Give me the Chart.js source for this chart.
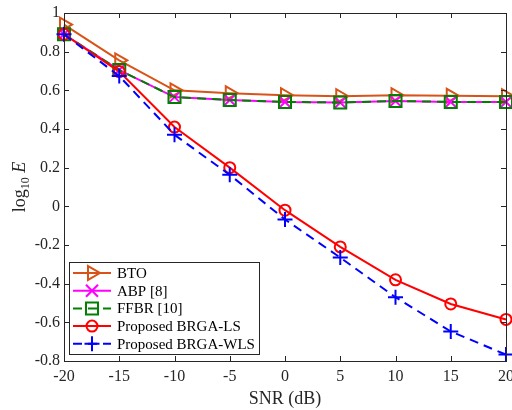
<!DOCTYPE html>
<html>
<head>
<meta charset="utf-8">
<script src="https://cdn.jsdelivr.net/npm/chart.js@4.4.0/dist/chart.umd.min.js"></script>
<style>
  html, body { margin: 0; padding: 0; background: #fff; }
  #wrap { width: 512px; height: 410px; }
</style>
</head>
<body>
<div id="wrap"><canvas id="myChart"></canvas></div>
<script>
// SNR sweep and log10 of the error for each method
const snr = [-20, -15, -10, -5, 0, 5, 10, 15, 20];
const bto = [0.94, 0.755, 0.60, 0.585, 0.575, 0.57, 0.575, 0.572, 0.57];
const abp = [0.89, 0.705, 0.565, 0.55, 0.54, 0.537, 0.545, 0.54, 0.54];
const ffbr = [0.89, 0.705, 0.565, 0.55, 0.54, 0.537, 0.545, 0.54, 0.54];
const brgaLs = [0.89, 0.697, 0.41, 0.20, -0.02, -0.21, -0.38, -0.505, -0.585];
const brgaWls = [0.89, 0.674, 0.37, 0.163, -0.068, -0.265, -0.47, -0.647, -0.767];

const xTicks = [-20, -15, -10, -5, 0, 5, 10, 15, 20];
const yTicks = [-0.8, -0.6, -0.4, -0.2, 0, 0.2, 0.4, 0.6, 0.8, 1];
const yTickLabels = ['-0.8', '-0.6', '-0.4', '-0.2', '0', '0.2', '0.4', '0.6', '0.8', '1'];

const labelNames = ['BTO', 'ABP [8]', 'FFBR [10]', 'Proposed BRGA-LS', 'Proposed BRGA-WLS'];

const axisColor = '#262626';
const serif = '"Liberation Serif", "Times New Roman", serif';

function serie(label, values, color, style, radius, dash, order, rotation) {
  return {
    label: label,
    data: snr.map((x, i) => ({ x: x, y: values[i] })),
    borderColor: color,
    backgroundColor: 'transparent',
    borderWidth: 2,
    borderDash: dash,
    pointStyle: style,
    pointRotation: rotation || 0,
    pointRadius: radius,
    pointBorderColor: color,
    pointBackgroundColor: 'transparent',
    pointBorderWidth: 2,
    tension: 0,
    clip: 10,
    order: order
  };
}

// inward ticks on all four sides plus the box
const frame = {
  id: 'frame',
  afterDatasetsDraw(chart) {
    const { ctx, chartArea: a, scales } = chart;
    ctx.save();
    ctx.strokeStyle = axisColor;
    ctx.lineWidth = 1;
    ctx.beginPath();
    xTicks.forEach(v => {
      const px = Math.round(scales.x.getPixelForValue(v)) + 0.5;
      ctx.moveTo(px, a.bottom); ctx.lineTo(px, a.bottom - 5);
      ctx.moveTo(px, a.top); ctx.lineTo(px, a.top + 5);
    });
    yTicks.forEach(v => {
      const py = Math.round(scales.y.getPixelForValue(v)) + 0.5;
      ctx.moveTo(a.left, py); ctx.lineTo(a.left + 5, py);
      ctx.moveTo(a.right, py); ctx.lineTo(a.right - 5, py);
    });
    ctx.stroke();
    ctx.strokeRect(Math.round(a.left) + 0.5, Math.round(a.top) + 0.5,
      Math.round(a.right - a.left), Math.round(a.bottom - a.top));
    ctx.restore();
  },
  afterDraw(chart) {
    const { ctx, chartArea: a } = chart;
    // y axis title: log10 E
    ctx.save();
    ctx.fillStyle = axisColor;
    ctx.translate(25, (a.top + a.bottom) / 2);
    ctx.rotate(-Math.PI / 2);
    ctx.textBaseline = 'alphabetic';
    const f1 = '18px ' + serif, f2 = '12px ' + serif, f3 = 'italic 18px ' + serif;
    ctx.font = f1; const w1 = ctx.measureText('log').width;
    ctx.font = f2; const w2 = ctx.measureText('10').width;
    ctx.font = f3; const w3 = ctx.measureText(' E').width;
    let x0 = -(w1 + w2 + w3) / 2;
    ctx.font = f1; ctx.fillText('log', x0, 0);
    ctx.font = f2; ctx.fillText('10', x0 + w1, 4);
    ctx.font = f3; ctx.fillText(' E', x0 + w1 + w2, 0);
    ctx.restore();
  }
};

// boxed legend in the lower left corner
const boxLegend = {
  id: 'boxLegend',
  afterDraw(chart) {
    const ctx = chart.ctx;
    const left = 69, top = 262, w = 190, h = 92, rowH = 17.7;
    ctx.save();
    ctx.fillStyle = '#fff';
    ctx.fillRect(left, top, w, h);
    ctx.strokeStyle = axisColor;
    ctx.lineWidth = 1;
    ctx.strokeRect(left + 0.5, top + 0.5, w, h);
    chart.data.datasets.forEach((ds, i) => {
      const y = top + 11 + i * rowH;
      ctx.strokeStyle = ds.borderColor;
      ctx.lineWidth = ds.borderWidth;
      ctx.setLineDash(ds.borderDash || []);
      ctx.beginPath();
      ctx.moveTo(73, y); ctx.lineTo(111, y);
      ctx.stroke();
      ctx.setLineDash([]);
      ctx.fillStyle = 'rgba(0,0,0,0)';
      Chart.helpers.drawPoint(ctx, {
        pointStyle: ds.pointStyle,
        rotation: ds.pointRotation,
        radius: ds.pointRadius,
        borderWidth: ds.pointBorderWidth
      }, 92, y);
      ctx.fillStyle = '#000';
      ctx.font = '15px ' + serif;
      ctx.textBaseline = 'middle';
      ctx.fillText(ds.label, 117, y + 1);
    });
    ctx.restore();
  }
};

const ctx = document.getElementById('myChart').getContext('2d');
new Chart(ctx, {
  type: 'line',
  data: {
    datasets: [
      serie(labelNames[0], bto, '#D95319', 'triangle', 8, [], 5, 90),
      serie(labelNames[1], abp, '#FF00FF', 'crossRot', 8.5, [], 4),
      serie(labelNames[2], ffbr, '#008000', 'rect', 8.5, [9, 6], 3),
      serie(labelNames[3], brgaLs, '#FF0000', 'circle', 5.5, [], 2),
      serie(labelNames[4], brgaWls, '#0000FF', 'cross', 7.5, [9, 6], 1)
    ]
  },
  options: {
    responsive: true,
    maintainAspectRatio: false,
    animation: false,
    layout: { autoPadding: false, padding: { top: 13, right: 6, left: 0, bottom: 0 } },
    plugins: { legend: { display: false }, tooltip: { enabled: false } },
    scales: {
      x: {
        type: 'linear',
        min: -20, max: 20,
        afterFit(s) { s.height = 49; s.paddingLeft = 0; s.paddingRight = 0; },
        afterBuildTicks(s) { s.ticks = xTicks.map(v => ({ value: v })); },
        grid: { display: false, drawTicks: false },
        border: { display: false },
        ticks: { padding: 6, color: axisColor, font: { family: serif, size: 16 }, maxRotation: 0, autoSkip: false },
        title: { display: true, text: 'SNR (dB)', color: axisColor, font: { family: serif, size: 18 }, padding: { top: 2, bottom: 0 } }
      },
      y: {
        type: 'linear',
        min: -0.8, max: 1,
        afterFit(s) { s.width = 64; s.paddingTop = 0; s.paddingBottom = 0; },
        afterBuildTicks(s) { s.ticks = yTicks.map(v => ({ value: v })); },
        grid: { display: false, drawTicks: false },
        border: { display: false },
        ticks: {
          padding: 4, color: axisColor, font: { family: serif, size: 16 }, autoSkip: false,
          callback: (v) => yTickLabels[yTicks.findIndex(t => Math.abs(t - v) < 1e-6)]
        }
      }
    }
  },
  plugins: [frame, boxLegend]
});
</script>
</body>
</html>
